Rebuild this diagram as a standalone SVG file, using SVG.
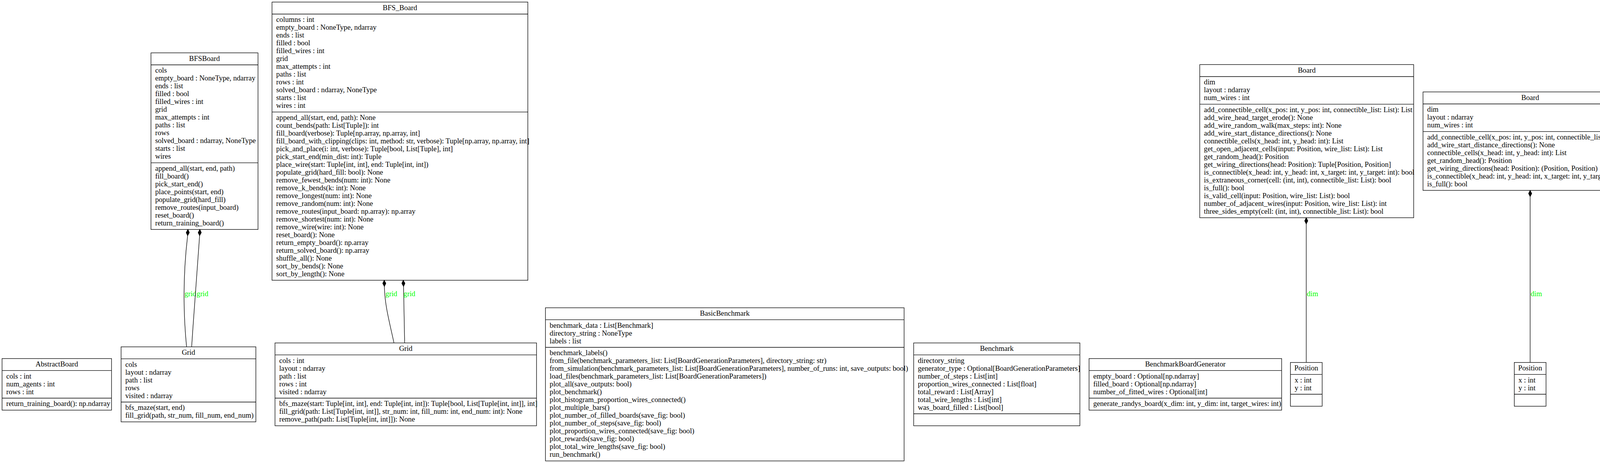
<svg xmlns="http://www.w3.org/2000/svg" width="6958" height="1185" viewBox="0 0 6958 1185">
<style>
text{font-family:"Liberation Serif","Times New Roman",Times,serif;font-size:18.67px;fill:#000}
.t{text-anchor:middle}
.node rect{fill:#fff;stroke:#000;stroke-width:1.33}
.node path{fill:none;stroke:#000;stroke-width:1.33}
#connectors path{fill:none;stroke:#000;stroke-width:1.33}
#connectors .d{fill:#000;stroke:#000;stroke-width:1.33}
#connectors .a{fill:#fff;stroke:#000;stroke-width:1.33}
#connectors text{fill:#00ff00}
</style>
<rect width="6958" height="1185" fill="#fff"/>

<g id="BFSBoard" class="node"><rect x="386.5" y="135.33" width="274" height="452"/><path d="M386.5 166H660.5M386.5 416.67H660.5"/>
<text class="t" x="523.5" y="155.6">BFSBoard</text>
<text x="397.2" y="186.27"><tspan>cols</tspan><tspan x="397.2" dy="20">empty_board : NoneType, ndarray</tspan><tspan x="397.2" dy="20">ends : list</tspan><tspan x="397.2" dy="20">filled : bool</tspan><tspan x="397.2" dy="20">filled_wires : int</tspan><tspan x="397.2" dy="20">grid</tspan><tspan x="397.2" dy="20">max_attempts : int</tspan><tspan x="397.2" dy="20">paths : list</tspan><tspan x="397.2" dy="20">rows</tspan><tspan x="397.2" dy="20">solved_board : ndarray, NoneType</tspan><tspan x="397.2" dy="20">starts : list</tspan><tspan x="397.2" dy="20">wires</tspan></text>
<text x="397.2" y="436.93"><tspan>append_all(start, end, path)</tspan><tspan x="397.2" dy="20">fill_board()</tspan><tspan x="397.2" dy="20">pick_start_end()</tspan><tspan x="397.2" dy="20">place_points(start, end)</tspan><tspan x="397.2" dy="20">populate_grid(hard_fill)</tspan><tspan x="397.2" dy="20">remove_routes(input_board)</tspan><tspan x="397.2" dy="20">reset_board()</tspan><tspan x="397.2" dy="20">return_training_board()</tspan></text>
</g>

<g id="BFS_Board" class="node"><rect x="696.4" y="5.33" width="654.9" height="712"/><path d="M696.4 36H1351.3M696.4 286.67H1351.3"/>
<text class="t" x="1023.85" y="25.6">BFS_Board</text>
<text x="707.1" y="56.27"><tspan>columns : int</tspan><tspan x="707.1" dy="20">empty_board : NoneType, ndarray</tspan><tspan x="707.1" dy="20">ends : list</tspan><tspan x="707.1" dy="20">filled : bool</tspan><tspan x="707.1" dy="20">filled_wires : int</tspan><tspan x="707.1" dy="20">grid</tspan><tspan x="707.1" dy="20">max_attempts : int</tspan><tspan x="707.1" dy="20">paths : list</tspan><tspan x="707.1" dy="20">rows : int</tspan><tspan x="707.1" dy="20">solved_board : ndarray, NoneType</tspan><tspan x="707.1" dy="20">starts : list</tspan><tspan x="707.1" dy="20">wires : int</tspan></text>
<text x="707.1" y="306.93"><tspan>append_all(start, end, path): None</tspan><tspan x="707.1" dy="20">count_bends(path: List[Tuple]): int</tspan><tspan x="707.1" dy="20">fill_board(verbose): Tuple[np.array, np.array, int]</tspan><tspan x="707.1" dy="20">fill_board_with_clipping(clips: int, method: str, verbose): Tuple[np.array, np.array, int]</tspan><tspan x="707.1" dy="20">pick_and_place(i: int, verbose): Tuple[bool, List[Tuple], int]</tspan><tspan x="707.1" dy="20">pick_start_end(min_dist: int): Tuple</tspan><tspan x="707.1" dy="20">place_wire(start: Tuple[int, int], end: Tuple[int, int])</tspan><tspan x="707.1" dy="20">populate_grid(hard_fill: bool): None</tspan><tspan x="707.1" dy="20">remove_fewest_bends(num: int): None</tspan><tspan x="707.1" dy="20">remove_k_bends(k: int): None</tspan><tspan x="707.1" dy="20">remove_longest(num: int): None</tspan><tspan x="707.1" dy="20">remove_random(num: int): None</tspan><tspan x="707.1" dy="20">remove_routes(input_board: np.array): np.array</tspan><tspan x="707.1" dy="20">remove_shortest(num: int): None</tspan><tspan x="707.1" dy="20">remove_wire(wire: int): None</tspan><tspan x="707.1" dy="20">reset_board(): None</tspan><tspan x="707.1" dy="20">return_empty_board(): np.array</tspan><tspan x="707.1" dy="20">return_solved_board(): np.array</tspan><tspan x="707.1" dy="20">shuffle_all(): None</tspan><tspan x="707.1" dy="20">sort_by_bends(): None</tspan><tspan x="707.1" dy="20">sort_by_length(): None</tspan></text>
</g>

<g id="Board1" class="node"><rect x="3071.4" y="165.33" width="547.6" height="392"/><path d="M3071.4 196H3619M3071.4 266.67H3619"/>
<text class="t" x="3345.2" y="185.6">Board</text>
<text x="3082.1" y="216.27"><tspan>dim</tspan><tspan x="3082.1" dy="20">layout : ndarray</tspan><tspan x="3082.1" dy="20">num_wires : int</tspan></text>
<text x="3082.1" y="286.93"><tspan>add_connectible_cell(x_pos: int, y_pos: int, connectible_list: List): List</tspan><tspan x="3082.1" dy="20">add_wire_head_target_erode(): None</tspan><tspan x="3082.1" dy="20">add_wire_random_walk(max_steps: int): None</tspan><tspan x="3082.1" dy="20">add_wire_start_distance_directions(): None</tspan><tspan x="3082.1" dy="20">connectible_cells(x_head: int, y_head: int): List</tspan><tspan x="3082.1" dy="20">get_open_adjacent_cells(input: Position, wire_list: List): List</tspan><tspan x="3082.1" dy="20">get_random_head(): Position</tspan><tspan x="3082.1" dy="20">get_wiring_directions(head: Position): Tuple[Position, Position]</tspan><tspan x="3082.1" dy="20">is_connectible(x_head: int, y_head: int, x_target: int, y_target: int): bool</tspan><tspan x="3082.1" dy="20">is_extraneous_corner(cell: (int, int), connectible_list: List): bool</tspan><tspan x="3082.1" dy="20">is_full(): bool</tspan><tspan x="3082.1" dy="20">is_valid_cell(input: Position, wire_list: List): bool</tspan><tspan x="3082.1" dy="20">number_of_adjacent_wires(input: Position, wire_list: List): int</tspan><tspan x="3082.1" dy="20">three_sides_empty(cell: (int, int), connectible_list: List): bool</tspan></text>
</g>

<g id="Board2" class="node"><rect x="3642.9" y="235.33" width="548.7" height="252"/><path d="M3642.9 266H4191.6M3642.9 336.67H4191.6"/>
<text class="t" x="3917.25" y="255.6">Board</text>
<text x="3653.6" y="286.27"><tspan>dim</tspan><tspan x="3653.6" dy="20">layout : ndarray</tspan><tspan x="3653.6" dy="20">num_wires : int</tspan></text>
<text x="3653.6" y="356.93"><tspan>add_connectible_cell(x_pos: int, y_pos: int, connectible_list: List): List</tspan><tspan x="3653.6" dy="20">add_wire_start_distance_directions(): None</tspan><tspan x="3653.6" dy="20">connectible_cells(x_head: int, y_head: int): List</tspan><tspan x="3653.6" dy="20">get_random_head(): Position</tspan><tspan x="3653.6" dy="20">get_wiring_directions(head: Position): (Position, Position)</tspan><tspan x="3653.6" dy="20">is_connectible(x_head: int, y_head: int, x_target: int, y_target: int): bool</tspan><tspan x="3653.6" dy="20">is_full(): bool</tspan></text>
</g>

<g id="Board3" class="node"><rect x="4215.3" y="235.33" width="547.7" height="252"/><path d="M4215.3 266H4763M4215.3 336.67H4763"/>
<text class="t" x="4489.15" y="255.6">Board</text>
<text x="4226" y="286.27"><tspan>dim</tspan><tspan x="4226" dy="20">layout : ndarray</tspan><tspan x="4226" dy="20">num_wires : int</tspan></text>
<text x="4226" y="356.93"><tspan>add_connectible_cell(x_pos: int, y_pos: int, connectible_list: list): list</tspan><tspan x="4226" dy="20">add_wire_start_distance_directions(): None</tspan><tspan x="4226" dy="20">connectible_cells(x_head: int, y_head: int): list</tspan><tspan x="4226" dy="20">get_random_head(): Vector</tspan><tspan x="4226" dy="20">get_wiring_directions(head: Vector): Tuple[Vector, Vector]</tspan><tspan x="4226" dy="20">is_connectible(x_head: int, y_head: int, x_target: int, y_target: int): bool</tspan><tspan x="4226" dy="20">is_full(): bool</tspan></text>
</g>

<g id="NewInstanceGenerator" class="node"><rect x="4787.5" y="285.33" width="187.5" height="152"/><path d="M4787.5 316H4975M4787.5 406.67H4975"/>
<text class="t" x="4881.25" y="305.6">NewInstanceGenerator</text>
<text x="4798.2" y="336.27"><tspan>board_enum</tspan><tspan x="4798.2" dy="20">cols : int</tspan><tspan x="4798.2" dy="20">num_agents : int</tspan><tspan x="4798.2" dy="20">rows : int</tspan></text>
</g>

<g id="Route" class="node"><rect x="4999.5" y="245.33" width="379.5" height="232"/><path d="M4999.5 276H5379M4999.5 326.67H5379"/>
<text class="t" x="5189.25" y="265.6">Route</text>
<text x="5010.2" y="296.27"><tspan>board_init</tspan><tspan x="5010.2" dy="20">reinitialisation_counter : int</tspan></text>
<text x="5010.2" y="346.93"><tspan>act(env, key)</tspan><tspan x="5010.2" dy="20">bootstrap()</tspan><tspan x="5010.2" dy="20">insantiate_board()</tspan><tspan x="5010.2" dy="20">insantiate_random_board()</tspan><tspan x="5010.2" dy="20">route(time_steps: int, fps: int)</tspan><tspan x="5010.2" dy="20">route_for_benchmarking(number_of_boards: int)</tspan><tspan x="5010.2" dy="20">step(env, state, action)</tspan></text>
</g>

<g id="BoardGenerationParameters" class="node"><rect x="5403.6" y="285.33" width="226.4" height="152"/><path d="M5403.6 316H5630M5403.6 406.67H5630"/>
<text class="t" x="5516.8" y="305.6">BoardGenerationParameters</text>
<text x="5414.3" y="336.27"><tspan>columns : int</tspan><tspan x="5414.3" dy="20">generator_type</tspan><tspan x="5414.3" dy="20">number_of_wires : int</tspan><tspan x="5414.3" dy="20">rows : int</tspan></text>
</g>

<g id="InstanceGenerator" class="node"><rect x="5686.7" y="285.33" width="154" height="152"/><path d="M5686.7 316H5840.7M5686.7 406.67H5840.7"/>
<text class="t" x="5763.7" y="305.6">InstanceGenerator</text>
<text x="5697.4" y="336.27"><tspan>board_generator</tspan><tspan x="5697.4" dy="20">cols : int</tspan><tspan x="5697.4" dy="20">num_agents : int</tspan><tspan x="5697.4" dy="20">rows : int</tspan></text>
</g>

<g id="Routing" class="node"><rect x="5865" y="165.33" width="480" height="392"/><path d="M5865 196H6345M5865 326.67H6345"/>
<text class="t" x="6105" y="185.6">Routing</text>
<text x="5875.7" y="216.27"><tspan>cols : int</tspan><tspan x="5875.7" dy="20">instance_generator</tspan><tspan x="5875.7" dy="20">num_agents : int</tspan><tspan x="5875.7" dy="20">obs_ints : int</tspan><tspan x="5875.7" dy="20">rows : int</tspan><tspan x="5875.7" dy="20">viewer : Optional[RoutingViewer], RoutingViewer</tspan></text>
<text x="5875.7" y="346.93"><tspan>action_spec(): specs.MultiDiscreteArray</tspan><tspan x="5875.7" dy="20">close(): None</tspan><tspan x="5875.7" dy="20">discount_spec(): specs.BoundedArray</tspan><tspan x="5875.7" dy="20">get_action_mask(grid: Array, agent_id: int): Array</tspan><tspan x="5875.7" dy="20">get_finished_agents(grid: Array): Array</tspan><tspan x="5875.7" dy="20">is_agent_connected(grid: Array, agent_id: int): jnp.bool_</tspan><tspan x="5875.7" dy="20">observation_spec(): specs.BoundedArray</tspan><tspan x="5875.7" dy="20">render(state: State): Array</tspan><tspan x="5875.7" dy="20">reset(key: PRNGKey): Tuple[State, TimeStep[Array]]</tspan><tspan x="5875.7" dy="20">reward_spec(): specs.Array</tspan><tspan x="5875.7" dy="20">step(state: State, action: Array): Tuple[State, TimeStep[Array]]</tspan></text>
</g>

<g id="DummyBoard" class="node"><rect x="6404.7" y="145.33" width="547.9" height="432"/><path d="M6404.7 176H6952.6M6404.7 266.67H6952.6"/>
<text class="t" x="6678.65" y="165.6">DummyBoard</text>
<text x="6415.4" y="196.27"><tspan>dim</tspan><tspan x="6415.4" dy="20">layout : ndarray</tspan><tspan x="6415.4" dy="20">num_agents : int</tspan><tspan x="6415.4" dy="20">num_wires : int</tspan></text>
<text x="6415.4" y="286.93"><tspan>add_connectible_cell(x_pos: int, y_pos: int, connectible_list: List): List</tspan><tspan x="6415.4" dy="20">add_wire_head_target_erode(): None</tspan><tspan x="6415.4" dy="20">add_wire_random_walk(max_steps: int): None</tspan><tspan x="6415.4" dy="20">add_wire_start_distance_directions(): None</tspan><tspan x="6415.4" dy="20">connectible_cells(x_head: int, y_head: int): List</tspan><tspan x="6415.4" dy="20">get_open_adjacent_cells(input: Position, wire_list: List): List</tspan><tspan x="6415.4" dy="20">get_random_head(): Position</tspan><tspan x="6415.4" dy="20">get_wiring_directions(head: Position): Tuple[Position, Position]</tspan><tspan x="6415.4" dy="20">is_connectible(x_head: int, y_head: int, x_target: int, y_target: int): bool</tspan><tspan x="6415.4" dy="20">is_extraneous_corner(cell: (int, int), connectible_list: List): bool</tspan><tspan x="6415.4" dy="20">is_full(): bool</tspan><tspan x="6415.4" dy="20">is_valid_cell(input: Position, wire_list: List): bool</tspan><tspan x="6415.4" dy="20">number_of_adjacent_wires(input: Position, wire_list: List): int</tspan><tspan x="6415.4" dy="20">return_training_board()</tspan><tspan x="6415.4" dy="20">three_sides_empty(cell: (int, int), connectible_list: List): bool</tspan></text>
</g>

<g id="AbstractBoard" class="node"><rect x="5.33" y="917.67" width="280.17" height="132"/><path d="M5.33 948.33H285.5M5.33 1019H285.5"/>
<text class="t" x="145.4" y="937.93">AbstractBoard</text>
<text x="16" y="968.6"><tspan>cols : int</tspan><tspan x="16" dy="20">num_agents : int</tspan><tspan x="16" dy="20">rows : int</tspan></text>
<text x="16" y="1039.27">return_training_board(): np.ndarray</text>
</g>

<g id="Grid1" class="node"><rect x="310" y="887.67" width="345" height="192"/><path d="M310 918.33H655M310 1029H655"/>
<text class="t" x="482.5" y="907.93">Grid</text>
<text x="320.7" y="938.6"><tspan>cols</tspan><tspan x="320.7" dy="20">layout : ndarray</tspan><tspan x="320.7" dy="20">path : list</tspan><tspan x="320.7" dy="20">rows</tspan><tspan x="320.7" dy="20">visited : ndarray</tspan></text>
<text x="320.7" y="1049.27"><tspan>bfs_maze(start, end)</tspan><tspan x="320.7" dy="20">fill_grid(path, str_num, fill_num, end_num)</tspan></text>
</g>

<g id="Grid2" class="node"><rect x="704" y="877.67" width="669.5" height="212"/><path d="M704 908.33H1373.5M704 1019H1373.5"/>
<text class="t" x="1038.75" y="897.93">Grid</text>
<text x="714.7" y="928.6"><tspan>cols : int</tspan><tspan x="714.7" dy="20">layout : ndarray</tspan><tspan x="714.7" dy="20">path : list</tspan><tspan x="714.7" dy="20">rows : int</tspan><tspan x="714.7" dy="20">visited : ndarray</tspan></text>
<text x="714.7" y="1039.27"><tspan>bfs_maze(start: Tuple[int, int], end: Tuple[int, int]): Tuple[bool, List[Tuple[int, int]], int]</tspan><tspan x="714.7" dy="20">fill_grid(path: List[Tuple[int, int]], str_num: int, fill_num: int, end_num: int): None</tspan><tspan x="714.7" dy="20">remove_path(path: List[Tuple[int, int]]): None</tspan></text>
</g>

<g id="BasicBenchmark" class="node"><rect x="1396.4" y="787.67" width="918.1" height="392"/><path d="M1396.4 818.33H2314.5M1396.4 889H2314.5"/>
<text class="t" x="1855.45" y="807.93">BasicBenchmark</text>
<text x="1407.1" y="838.6"><tspan>benchmark_data : List[Benchmark]</tspan><tspan x="1407.1" dy="20">directory_string : NoneType</tspan><tspan x="1407.1" dy="20">labels : list</tspan></text>
<text x="1407.1" y="909.27"><tspan>benchmark_labels()</tspan><tspan x="1407.1" dy="20">from_file(benchmark_parameters_list: List[BoardGenerationParameters], directory_string: str)</tspan><tspan x="1407.1" dy="20">from_simulation(benchmark_parameters_list: List[BoardGenerationParameters], number_of_runs: int, save_outputs: bool)</tspan><tspan x="1407.1" dy="20">load_files(benchmark_parameters_list: List[BoardGenerationParameters])</tspan><tspan x="1407.1" dy="20">plot_all(save_outputs: bool)</tspan><tspan x="1407.1" dy="20">plot_benchmark()</tspan><tspan x="1407.1" dy="20">plot_histogram_proportion_wires_connected()</tspan><tspan x="1407.1" dy="20">plot_multiple_bars()</tspan><tspan x="1407.1" dy="20">plot_number_of_filled_boards(save_fig: bool)</tspan><tspan x="1407.1" dy="20">plot_number_of_steps(save_fig: bool)</tspan><tspan x="1407.1" dy="20">plot_proportion_wires_connected(save_fig: bool)</tspan><tspan x="1407.1" dy="20">plot_rewards(save_fig: bool)</tspan><tspan x="1407.1" dy="20">plot_total_wire_lengths(save_fig: bool)</tspan><tspan x="1407.1" dy="20">run_benchmark()</tspan></text>
</g>

<g id="Benchmark" class="node"><rect x="2339" y="877.67" width="425.5" height="212"/><path d="M2339 908.33H2764.5M2339 1059H2764.5"/>
<text class="t" x="2551.75" y="897.93">Benchmark</text>
<text x="2349.7" y="928.6"><tspan>directory_string</tspan><tspan x="2349.7" dy="20">generator_type : Optional[BoardGenerationParameters]</tspan><tspan x="2349.7" dy="20">number_of_steps : List[int]</tspan><tspan x="2349.7" dy="20">proportion_wires_connected : List[float]</tspan><tspan x="2349.7" dy="20">total_reward : List[Array]</tspan><tspan x="2349.7" dy="20">total_wire_lengths : List[int]</tspan><tspan x="2349.7" dy="20">was_board_filled : List[bool]</tspan></text>
</g>

<g id="BenchmarkBoardGenerator" class="node"><rect x="2788" y="917.67" width="493" height="132"/><path d="M2788 948.33H3281M2788 1019H3281"/>
<text class="t" x="3034.5" y="937.93">BenchmarkBoardGenerator</text>
<text x="2798.7" y="968.6"><tspan>empty_board : Optional[np.ndarray]</tspan><tspan x="2798.7" dy="20">filled_board : Optional[np.ndarray]</tspan><tspan x="2798.7" dy="20">number_of_fitted_wires : Optional[int]</tspan></text>
<text x="2798.7" y="1039.27">generate_randys_board(x_dim: int, y_dim: int, target_wires: int)</text>
</g>

<g id="Position1" class="node"><rect x="3303.5" y="927.67" width="81.2" height="112"/><path d="M3303.5 958.33H3384.7M3303.5 1009H3384.7"/>
<text class="t" x="3344.1" y="947.93">Position</text>
<text x="3314.2" y="978.6"><tspan>x : int</tspan><tspan x="3314.2" dy="20">y : int</tspan></text>
</g>

<g id="Position2" class="node"><rect x="3876.6" y="927.67" width="81.2" height="112"/><path d="M3876.6 958.33H3957.8M3876.6 1009H3957.8"/>
<text class="t" x="3917.2" y="947.93">Position</text>
<text x="3887.3" y="978.6"><tspan>x : int</tspan><tspan x="3887.3" dy="20">y : int</tspan></text>
</g>

<g id="Vector" class="node"><rect x="4453.3" y="927.67" width="71.9" height="112"/><path d="M4453.3 958.33H4525.2M4453.3 1009H4525.2"/>
<text class="t" x="4489.25" y="947.93">Vector</text>
<text x="4464" y="978.6"><tspan>x : int</tspan><tspan x="4464" dy="20">y : int</tspan></text>
</g>

<g id="MartasNewInstanceGenerator" class="node"><rect x="4761.5" y="937.67" width="238.5" height="92"/><path d="M4761.5 968.33H5000M4761.5 999H5000"/>
<text class="t" x="4880.75" y="957.93">MartasNewInstanceGenerator</text>
</g>

<g id="BoardGenerators" class="node"><rect x="5288.8" y="937.67" width="144.6" height="92"/><path d="M5288.8 968.33H5433.4M5288.8 999H5433.4"/>
<text class="t" x="5361.1" y="957.93">BoardGenerators</text>
<text x="5299.5" y="988.6">name</text>
</g>

<g id="RandomInstanceGenerator" class="node"><rect x="5663.8" y="937.67" width="215.9" height="92"/><path d="M5663.8 968.33H5879.7M5663.8 999H5879.7"/>
<text class="t" x="5771.75" y="957.93">RandomInstanceGenerator</text>
</g>

<g id="UniversalInstanceGenerator" class="node"><rect x="5911.8" y="937.67" width="223.5" height="92"/><path d="M5911.8 968.33H6135.3M5911.8 999H6135.3"/>
<text class="t" x="6023.55" y="957.93">UniversalInstanceGenerator</text>
</g>

<g id="BoardGenerator" class="node"><rect x="6191" y="937.67" width="406.5" height="92"/><path d="M6191 968.33H6597.5M6191 999H6597.5"/>
<text class="t" x="6394.25" y="957.93">BoardGenerator</text>
<text x="6201.7" y="988.6">board_generator_dict : dict</text>
<text x="6201.7" y="1019.27">get_board_generator(board_enum: BoardGenerators)</text>
</g>

<g id="Position3" class="node"><rect x="6638" y="927.67" width="81.2" height="112"/><path d="M6638 958.33H6719.2M6638 1009H6719.2"/>
<text class="t" x="6678.6" y="947.93">Position</text>
<text x="6648.7" y="978.6"><tspan>x : int</tspan><tspan x="6648.7" dy="20">y : int</tspan></text>
</g>

<g id="connectors">
<path d="M477.6 887.67C468 790 470 690 480.3 603.33"/><polygon class="d" points="481.1,587.33 484.7,595.33 480.3,603.33 476.7,595.33"/><text x="472.4" y="758">grid</text>
<path d="M490.6 887.67C497 790 505 690 511 603.33"/><polygon class="d" points="511.6,587.33 515.3,595.33 511,603.33 507.3,595.33"/><text x="503.3" y="758">grid</text>
<path d="M1008.6 877.67C996 820 985 780 984 733.33"/><polygon class="d" points="983.7,717.33 987.8,725.33 984,733.33 979.8,725.33"/><text x="986.9" y="758">grid</text>
<path d="M1035.9 877.67L1033.1 733.33"/><polygon class="d" points="1032.4,717.33 1036.7,725.33 1033.1,733.33 1028.7,725.33"/><text x="1033.1" y="758">grid</text>
<path d="M3344 927.67V573.33"/><polygon class="d" points="3344,557.33 3348,565.33 3344,573.33 3340,565.33"/><text x="3345.5" y="758">dim</text>
<path d="M3917.2 927.67V503.33"/><polygon class="d" points="3917.2,487.33 3921.2,495.33 3917.2,503.33 3913.2,495.33"/><text x="3918.5" y="758">dim</text>
<path d="M4489 927.67V503.33"/><polygon class="d" points="4489,487.33 4493,495.33 4489,503.33 4485,495.33"/><text x="4490.3" y="758">dim</text>
<path d="M4880.8 937.67V451"/><polygon class="a" points="4880.8,437.33 4884.8,451 4876.8,451"/>
<path d="M5288.8 947C5210 910 5060 800 5018.4 752.3C4980 708 4900 560 4890 453.33"/><polygon class="d" points="4888.3,437.33 4893.1,445.33 4890,453.33 4885.1,445.33"/><text x="5018.4" y="758">board_enum</text>
<path d="M5347.4 937.67C5320 840 5260 620 5225.5 493.33"/><polygon class="d" points="5222.7,477.33 5228.1,485.33 5225.5,493.33 5220.1,485.33"/><text x="5296.2" y="758">board_init</text>
<path d="M5372.7 937.67C5390 850 5460 600 5495.5 453.33"/><polygon class="d" points="5496.7,437.33 5500.1,445.33 5495.5,453.33 5492.1,445.33"/><text x="5420" y="758">generator_type</text>
<path d="M5424 937.67C5480 880 5580 800 5615.3 752.3C5640 718 5720 560 5745 453.33"/><polygon class="d" points="5747,437.33 5750,445.33 5745,453.33 5742,445.33"/><text x="5625.2" y="758">board_generator</text>
<path d="M5770.6 937.67L5764.6 451"/><polygon class="a" points="5764.5,437.33 5768.6,451 5760.6,451"/>
<path d="M5991 937.67C5950 875 5880 780 5853 720C5838 687 5790 520 5779.3 451"/><polygon class="a" points="5777.3,437.33 5783.2,450.5 5775.3,451.5"/>
<path d="M6029.7 937.67C6040 860 6070 650 6077.5 573.33"/><polygon class="d" points="6077.9,557.33 6081.7,565.33 6077.5,573.33 6073.7,565.33"/><text x="6056.5" y="758">instance_generator</text>
<path d="M6678.6 927.67V593.33"/><polygon class="d" points="6678.6,577.33 6682.6,585.33 6678.6,593.33 6674.6,585.33"/><text x="6679.9" y="758">dim</text>
</g>
</svg>
